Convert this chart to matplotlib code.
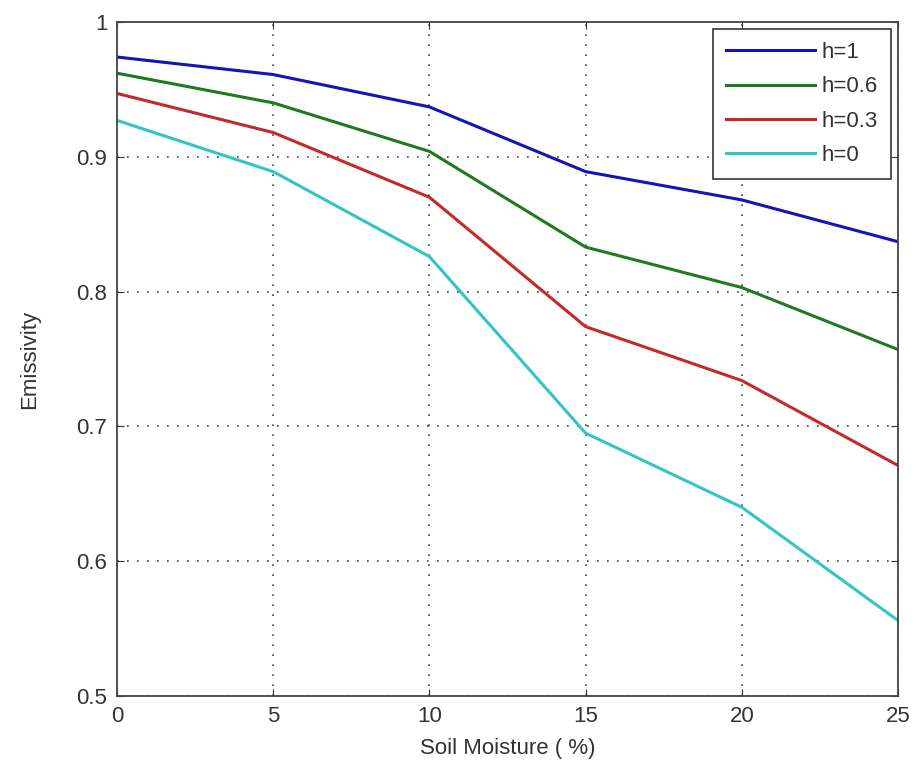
import matplotlib
matplotlib.use('Agg')
import matplotlib.pyplot as plt

moisture = [0, 5, 10, 15, 20, 25]

h_labels = ['h=1', 'h=0.6', 'h=0.3', 'h=0']
h_1   = [0.974, 0.961, 0.937, 0.889, 0.868, 0.837]
h_06  = [0.962, 0.940, 0.904, 0.833, 0.803, 0.757]
h_03  = [0.947, 0.918, 0.870, 0.774, 0.734, 0.671]
h_0   = [0.927, 0.889, 0.826, 0.695, 0.640, 0.556]

x_ticks = [0, 5, 10, 15, 20, 25]
y_ticks = [0.5, 0.6, 0.7, 0.8, 0.9, 1.0]
y_tick_labels = ['0.5', '0.6', '0.7', '0.8', '0.9', '1']

colors = ['#1414b8', '#1f7a1f', '#c42a2a', '#33c4c4']

plt.rcParams['font.family'] = ['Liberation Sans', 'DejaVu Sans']

fig = plt.figure(figsize=(9.24, 7.63), dpi=100)
ax = fig.add_axes([0.1266, 0.0878, 0.8453, 0.8834])

for values, label, color in zip([h_1, h_06, h_03, h_0], h_labels, colors):
    ax.plot(moisture, values, color=color, linewidth=2.2, label=label)

ax.set_xlim(0, 25)
ax.set_ylim(0.5, 1.0)
ax.set_xticks(x_ticks)
ax.set_yticks(y_ticks)
ax.set_yticklabels(y_tick_labels)
ax.tick_params(direction='in', top=True, right=True, length=5, pad=7,
               labelsize=16, colors='#333333', labelcolor='#333333')
ax.grid(True, linestyle=(0, (1, 5)), color='#444444', linewidth=1.2)

for s in ax.spines.values():
    s.set_color('#444444')
    s.set_linewidth(1.3)

ax.set_xlabel('Soil Moisture ( %)', fontsize=16, color='#333333', labelpad=8)
ax.set_ylabel('Emissivity', fontsize=16, color='#333333', labelpad=26)

leg = ax.legend(loc='upper right', fontsize=16, fancybox=False, framealpha=1,
                edgecolor='#444444', handlelength=4.0, borderaxespad=0.3,
                labelspacing=0.6, handletextpad=0.3, borderpad=0.6)
leg.get_frame().set_linewidth(1.3)
for t in leg.get_texts():
    t.set_color('#333333')

fig.savefig('out.png', dpi=100)
